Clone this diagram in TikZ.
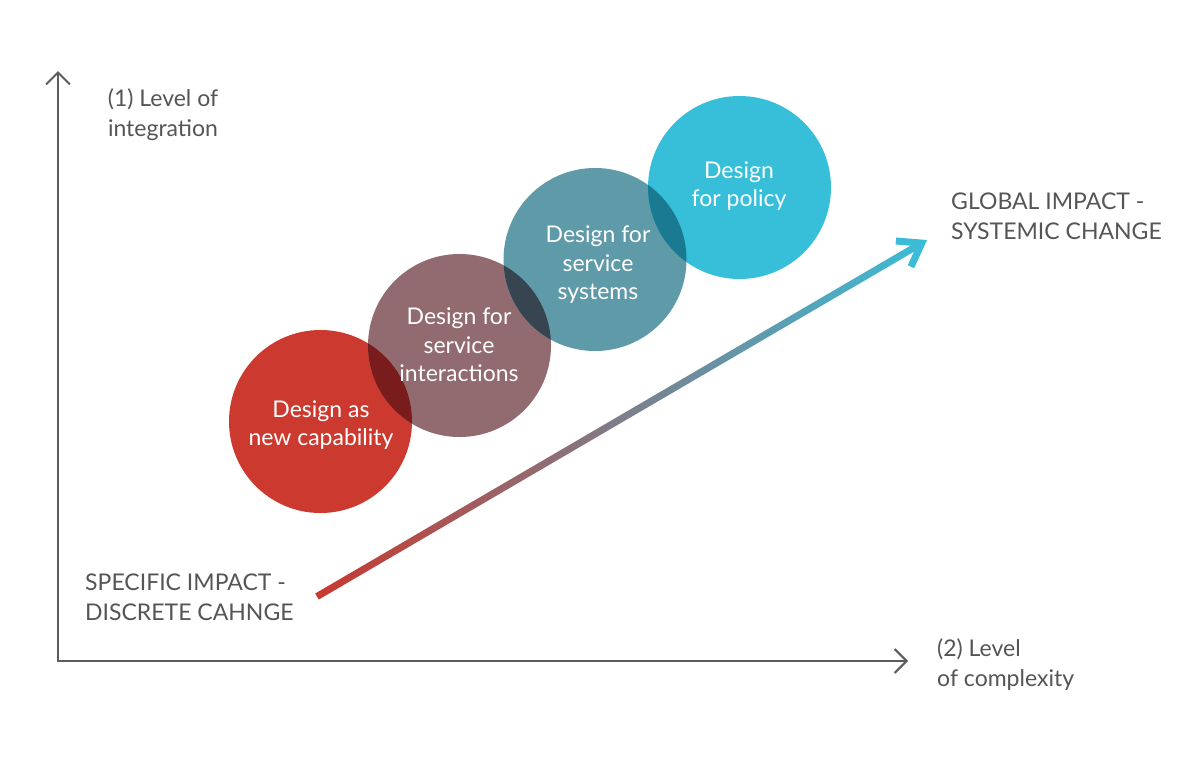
\documentclass[tikz,border=0pt]{standalone}
\usepackage{fontspec}
\setmainfont{Lato}
\usetikzlibrary{arrows.meta}
\definecolor{cRed}{HTML}{CC392F}
\definecolor{cMauve}{HTML}{916B70}
\definecolor{cTeal}{HTML}{5F9AA8}
\definecolor{cCyan}{HTML}{37BFDA}
\definecolor{oRM}{HTML}{7A1C1C}
\definecolor{oMT}{HTML}{36454F}
\definecolor{oTC}{HTML}{1A7A91}
\definecolor{axisgray}{HTML}{5C5C5C}
\definecolor{lblgray}{HTML}{555555}
\definecolor{arRed}{HTML}{C9382F}
\definecolor{arMid}{HTML}{7E7D8A}
\definecolor{arCyan}{HTML}{3BBCD6}
\begin{document}
\begin{tikzpicture}[x=1pt,y=-1pt,
  bubble/.style={circle, minimum size=183pt, inner sep=0pt, draw=none},
  bubbletext/.style={text=white, align=center, font=\fontsize{23}{28.5}\selectfont, inner sep=0pt},
  axislabel/.style={text=lblgray, font=\fontsize{23}{30}\selectfont, inner sep=0pt},
  axisline/.style={draw=axisgray, line width=2pt, {Straight Barb[length=12pt,width=24pt]}-{Straight Barb[length=12pt,width=24pt]}}]

\useasboundingbox (0,0) rectangle (1201,774);
\fill[white] (0,0) rectangle (1201,774);

% axes
\coordinate (O) at (58,661);
\coordinate (Ytop) at (58,71);
\coordinate (Xend) at (908,661);
\draw[axisline] (Ytop) -- (O) -- (Xend);

% circles
\node[bubble, fill=cRed]   (b1) at (320.5,421.5) {};
\node[bubble, fill=cMauve] (b2) at (459.5,345.5) {};
\node[bubble, fill=cTeal]  (b3) at (595,259.5) {};
\node[bubble, fill=cCyan]  (b4) at (739.5,187.5) {};

% overlaps
\begin{scope}\clip (b1.center) circle (91.5pt); \fill[oRM] (b2.center) circle (91.5pt);\end{scope}
\begin{scope}\clip (b2.center) circle (91.5pt); \fill[oMT] (b3.center) circle (91.5pt);\end{scope}
\begin{scope}\clip (b3.center) circle (91.5pt); \fill[oTC] (b4.center) circle (91.5pt);\end{scope}

% circle texts
\node[bubbletext] (t1) at (321,425) {Design as\\new capability};
\node[bubbletext] (t2) at (459,345) {Design for\\service\\interactions};
\node[bubbletext] (t3) at (598,265) {Design for\\service\\systems};
\node[bubbletext] (t4) at (739,186) {Design\\for policy};

% labels
\node[axislabel, align=center] (ly) at (163,115) {(1) Level of\\integration};
\node[axislabel, align=left, anchor=west] (lx) at (937,665) {(2) Level\\of complexity};
\node[axislabel, align=left, anchor=west] (lg) at (951,216) {GLOBAL IMPACT -\\SYSTEMIC CHANGE};
\node[axislabel, align=left, anchor=west] (ls) at (85,597) {SPECIFIC IMPACT -\\DISCRETE CAHNGE};

% gradient arrow
\coordinate (As) at (317,596.5);
\coordinate (At) at (927,240);
\begin{scope}[shift={(As)}, rotate=30.3]
  \shade[left color=arRed, right color=arCyan, middle color=arMid] (0,-3.5) rectangle (700.5,3.5);
  \draw[line width=7pt, draw=arCyan, miter limit=10] (679.2,-14.9) -- (700.5,0) -- (679.2,14.9);
\end{scope}
\end{tikzpicture}
\end{document}
